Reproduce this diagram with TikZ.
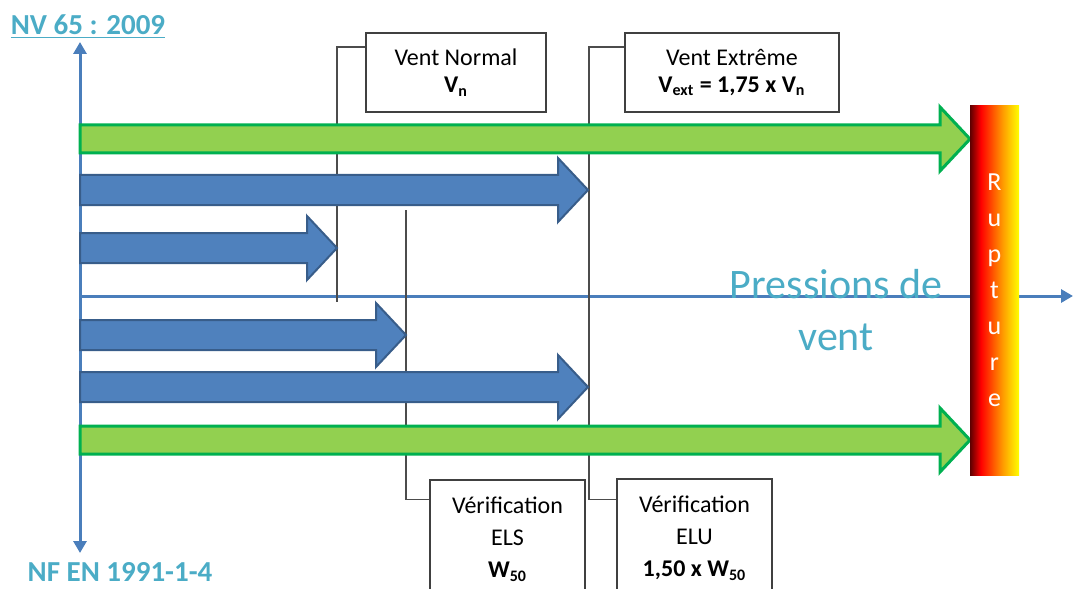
\documentclass[tikz,border=0pt]{standalone}
\usepackage{fontspec}
\setmainfont{Carlito}
\setsansfont{Carlito}
\usepackage{tikz}
\usetikzlibrary{positioning,arrows.meta}
\definecolor{axisblue}{HTML}{4A7EBB}
\definecolor{titleblue}{HTML}{4BACC6}
\definecolor{barblue}{HTML}{4F81BD}
\definecolor{barblueedge}{HTML}{385D8A}
\definecolor{bargreen}{HTML}{92D050}
\definecolor{bargreenedge}{HTML}{00B050}
\definecolor{rupdark}{HTML}{5C0000}
\definecolor{ruporange}{HTML}{FF9900}
\pgfdeclarehorizontalshading{rupshade}{100bp}{color(0bp)=(rupdark); color(25bp)=(rupdark); color(36bp)=(red); color(58bp)=(ruporange); color(75bp)=(yellow); color(100bp)=(yellow)}
\tikzset{
  mybox/.style={draw=black!75,line width=0.8pt,fill=white,align=center,font=\fontsize{12}{13.5}\selectfont},
  lowbox/.style={mybox,minimum width=77.5pt,minimum height=59pt,font=\fontsize{12}{16}\selectfont},
  conn/.style={draw=black!70,line width=0.7pt},
  axis/.style={axisblue,line width=1.5pt,>={Triangle[width=6.5pt,length=6pt]}},
  title/.style={text=titleblue,font=\fontsize{14.5}{16}\selectfont\bfseries},
  bluearrow/.style={fill=barblue,draw=barblueedge,line width=1pt},
  greenarrow/.style={fill=bargreen,draw=bargreenedge,line width=1.5pt},
  rupture/.style={shade,shading=rupshade,minimum width=24.5pt,minimum height=184.5pt,inner sep=0pt,text=white,align=center,font=\fontsize{13}{18}\selectfont}
}

\begin{document}
\begin{tikzpicture}[x=0.5pt,y=-0.5pt,font=\sffamily]
    \clip (0,0) rectangle (1074,588);
    % axes
    \coordinate (top) at (80,42);
    \coordinate (bot) at (80,553);
    \coordinate (o) at (80,296);
    \coordinate (xend) at (1073,296);
    \node[title] (nv) at (88,27) {\underline{NV 65 : 2009}};
    \node[title] (nf) at (120,572) {NF EN 1991-1-4};
    \draw[axis,<->] (top) -- (bot);
    \draw[axis,->] (o) -- (xend);
    % boxes
    \node[mybox,minimum width=90pt,minimum height=39.5pt] (vn) at (456,72.5) {Vent Normal\\\textbf{V\textsubscript{n}}};
    \node[mybox,minimum width=107pt,minimum height=39.5pt] (vext) at (732,72.5) {Vent Extrême\\\textbf{V\textsubscript{ext} = 1,75 x V\textsubscript{n}}};
    \node[lowbox] (els) at (507.5,539) {Vérification\\ELS\\\textbf{W\textsubscript{50}}};
    \node[lowbox] (elu) at (694.5,538) {Vérification\\ELU\\\textbf{1,50 x W\textsubscript{50}}};
    % connectors
    \coordinate (vnfoot) at (337,302);
    \coordinate (elux) at (589,296);
    \coordinate (elstop) at (406,210);
    \draw[conn] ([yshift=-7.5pt]vn.north west) -| (vnfoot);
    \draw[conn] ([yshift=-7.5pt]vext.north west) -| (elux) |- ([yshift=-10.5pt]elu.north west);
    \draw[conn] (elstop) |- ([yshift=-10pt]els.north west);
    % arrows
    \foreach \y/\t in {190/588,248/337,335/406,387/588}
        \draw[bluearrow] (80,\y-15) -- (\t-30,\y-15) -- (\t-30,\y-32) -- (\t,\y) -- (\t-30,\y+32) -- (\t-30,\y+15) -- (80,\y+15) -- cycle;
    \foreach \y in {139,440}
        \draw[greenarrow] (80,\y-14) -- (940,\y-14) -- (940,\y-32) -- (970,\y) -- (940,\y+32) -- (940,\y+14) -- (80,\y+14) -- cycle;
    \node[rupture] (rupt) at (994.5,290.5) {R\\u\\p\\t\\u\\r\\e};
    \node[text=titleblue,align=center,font=\fontsize{21}{26}\selectfont] (pv) at (836,310) {Pressions de\\vent};
\end{tikzpicture}
\end{document}
